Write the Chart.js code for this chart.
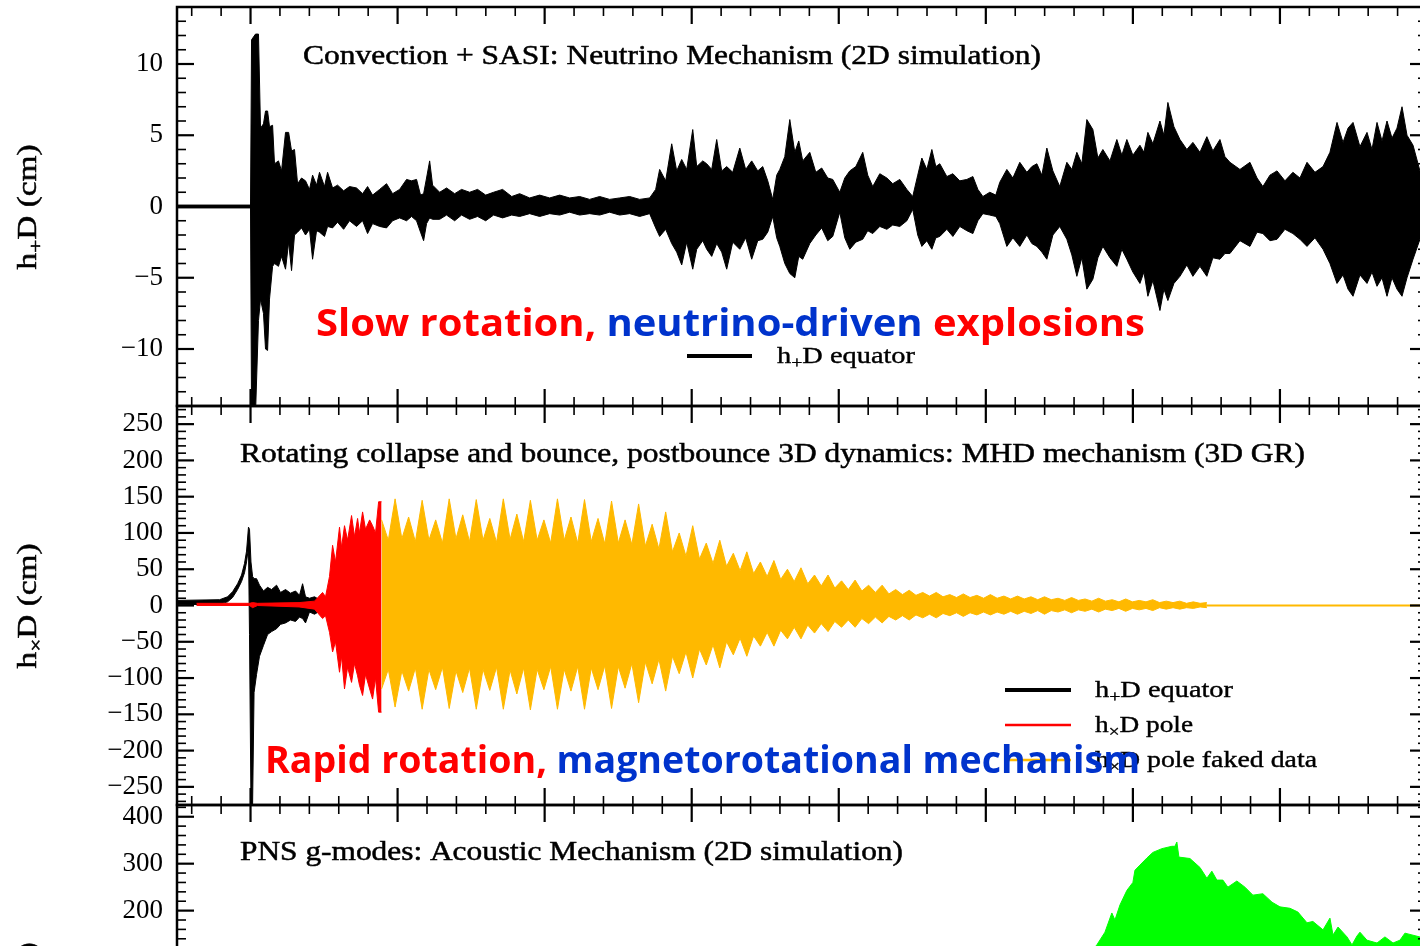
<!DOCTYPE html>
<html>
<head>
<meta charset="utf-8">
<script src="https://cdn.jsdelivr.net/npm/chart.js@4.4.1/dist/chart.umd.min.js"></script>
<style>
  html, body { margin: 0; padding: 0; background: #fff; overflow: hidden; width: 1420px; height: 946px; }
  canvas { position: absolute; left: 0; }
</style>
</head>
<body>
<canvas id="c1" width="1460" height="479" style="top:-33px"></canvas>
<canvas id="c2" width="1460" height="479" style="top:366px"></canvas>
<canvas id="c3" width="1460" height="479" style="top:765px"></canvas>
<canvas id="ov" width="1420" height="946" style="top:0"></canvas>
<script>
// time axis in ms after bounce (shared by the three panels, no labels shown)
const xMin = -50, xMax = 800;

// ---- top panel: h+D equator, neutrino mechanism (upper / lower envelope)
const tTop = [
  -50, 0, 0.7, 3.4, 5.4, 6.8, 8.8, 10.2, 11.6, 12.9,
  15, 16.3, 19, 21.1, 23.8, 25.9, 27.9, 29.9, 32, 34.7,
  37.4, 40.1, 42.2, 44.9, 46.9, 50.3, 52.4, 55.8, 59.2, 63.3,
  67.3, 72.1, 76.2, 79.6, 83, 87.8, 92.5, 96.6, 101.4, 106.1,
  109.5, 112.9, 115.6, 117.7, 119.7, 121.8, 123.8, 128.6, 133.3, 138.8,
  143.5, 149, 154.4, 159.9, 165.3, 171.4, 177.6, 183, 189.8, 196.6,
  203.4, 210.2, 217, 223.8, 230.6, 237.4, 244.2, 251, 257.8, 264.6,
  271.4, 275.5, 278.2, 282.3, 286.4, 289.8, 293.2, 296.6, 300.7, 303.4,
  307.5, 310.2, 313.6, 317, 320.4, 323.8, 327.9, 332.7, 336.7, 340.8,
  344.9, 348.3, 351.7, 355.1, 357.8, 359.9, 363.3, 366.7, 370.1, 372.8,
  375.5, 380.3, 384.4, 388.4, 392.5, 395.9, 400.7, 404.1, 407.5, 411.6,
  416.3, 419.7, 423.1, 427.9, 432.7, 436.7, 441.5, 446.3, 450.3, 453.7,
  456.5, 459.9, 463.3, 466, 468.7, 473.5, 477.6, 482.3, 487.1, 491.2,
  494.6, 498, 502.7, 506.8, 509.5, 514.3, 518.4, 523.1, 527.9, 531.3,
  534.7, 538.1, 541.5, 545.6, 550.3, 555.1, 558.5, 561.9, 565.3, 568.7,
  572.8, 576.2, 579.6, 584.4, 589.1, 592.5, 595.9, 600, 604.8, 607.5,
  610.2, 613.6, 618.4, 621.1, 623.8, 627.9, 632, 636.7, 640.8, 645.6,
  650.3, 654.4, 659.2, 662.6, 666, 672.8, 679.6, 684.4, 688.4, 693.2,
  698, 703.4, 708.8, 713.6, 718.4, 723.8, 729.3, 734, 738.8, 742.9,
  746.3, 749.7, 754.4, 759.2, 762.6, 766, 769.4, 772.8, 776.2, 779.6,
  783, 786.4, 790.5, 795.2, 800
];
const topUpper = [
  0.1, 0.1, 11.7, 12.1, 12.1, 5.5, 5.8, 6.7, 6.7, 5.6,
  5.7, 3.0, 3.2, 2.5, 5.2, 5.2, 3.9, 4.0, 1.6, 2.0,
  1.8, 1.2, 2.2, 1.5, 2.4, 1.4, 2.4, 1.3, 1.5, 1.1,
  1.4, 1.3, 0.9, 1.4, 0.8, 1.2, 1.6, 0.9, 1.2, 1.9,
  1.8, 1.9, 0.8, 0.9, 2.0, 3.2, 1.5, 1.0, 1.3, 0.9,
  1.2, 1.0, 1.2, 0.8, 1.0, 1.2, 0.7, 0.9, 0.6, 0.8,
  0.6, 0.8, 0.6, 0.7, 0.5, 0.7, 0.5, 0.6, 0.7, 0.5,
  0.6, 1.2, 2.6, 1.8, 4.4, 2.5, 3.3, 2.6, 5.4, 2.8,
  3.2, 3.0, 2.6, 4.7, 2.5, 2.8, 2.4, 4.1, 2.6, 3.2,
  2.5, 2.8, 1.8, 0.5, 2.2, 2.6, 3.5, 6.1, 3.8, 4.6,
  3.2, 3.8, 2.4, 2.7, 2.0, 1.9, 1.0, 2.0, 2.5, 2.8,
  3.8, 2.2, 1.4, 2.3, 2.0, 1.6, 1.9, 1.2, 0.7, 2.2,
  3.4, 2.6, 4.0, 2.8, 3.0, 2.1, 2.3, 1.8, 1.9, 2.1,
  1.2, 0.7, 1.0, 0.8, 1.7, 2.6, 2.0, 3.1, 2.4, 2.8,
  3.0, 2.2, 4.1, 2.5, 1.4, 3.1, 2.6, 3.8, 3.0, 6.1,
  5.4, 3.4, 4.0, 3.2, 4.7, 3.6, 4.7, 3.6, 4.3, 3.8,
  5.2, 4.4, 6.0, 5.0, 7.3, 5.6, 4.7, 4.0, 4.5, 3.8,
  4.9, 3.9, 4.7, 3.5, 3.1, 2.6, 3.1, 2.0, 1.4, 2.2,
  2.5, 1.8, 2.4, 2.0, 3.1, 2.4, 2.8, 3.8, 5.9, 4.5,
  5.5, 5.9, 4.2, 5.2, 4.0, 5.9, 4.6, 6.0, 4.8, 5.5,
  7.0, 5.0, 4.3, 2.5, 3.0
];
const topLower = [
  -0.1, -0.1, -14.5, -14.5, -8, -6.5, -7.5, -10, -10.1, -6.5,
  -4.2, -4.0, -4.2, -3.5, -4.4, -2.5, -4.5, -2, -1.8, -1.5,
  -2.0, -1.6, -3.7, -1.7, -1.8, -2.1, -1.4, -1.5, -1.1, -1.6,
  -1.0, -1.4, -1.0, -1.9, -1.2, -1.4, -1.5, -1.0, -0.8, -1.0,
  -0.7, -1.0, -1.8, -2.4, -1.2, -0.8, -0.9, -0.9, -0.6, -1.0,
  -0.6, -0.9, -0.7, -1.0, -0.6, -0.8, -0.6, -0.7, -0.5, -0.7,
  -0.5, -0.6, -0.4, -0.6, -0.5, -0.6, -0.4, -0.6, -0.5, -0.7,
  -0.5, -1.5, -2.1, -1.6, -2.6, -3.2, -4.1, -2.5, -4.4, -3.0,
  -2.4, -3.0, -3.5, -2.6, -3.2, -4.4, -2.5, -3.0, -2.2, -3.7,
  -2.4, -2.3, -1.8, -0.7, -2.2, -2.8, -4.0, -4.7, -5.0, -3.5,
  -3.7, -2.6, -2.0, -1.5, -2.4, -2.1, -0.4, -2.2, -3.0, -2.5,
  -2.3, -1.7, -1.9, -1.4, -1.6, -1.3, -1.4, -1.0, -0.2, -2.0,
  -2.8, -2.4, -3.0, -2.2, -2.1, -1.6, -2.1, -1.4, -1.7, -1.9,
  -1.0, -0.5, -0.6, -0.7, -1.2, -2.8, -2.2, -2.8, -2.0, -2.6,
  -2.8, -3.2, -3.7, -2.0, -1.4, -2.3, -3.4, -4.9, -3.6, -5.8,
  -5.1, -3.6, -2.8, -3.6, -4.2, -3.0, -3.7, -4.6, -5.4, -4.6,
  -6.3, -5.2, -7.3, -5.8, -6.6, -5.4, -4.9, -4.1, -4.9, -4.2,
  -4.9, -3.6, -3.7, -3.3, -3.3, -2.4, -2.8, -1.8, -1.9, -2.4,
  -2.3, -1.6, -1.9, -2.3, -2.8, -2.2, -3.0, -4.0, -5.4, -4.8,
  -5.8, -6.3, -4.8, -5.4, -4.6, -5.6, -5.0, -6.3, -5.0, -5.8,
  -6.3, -5.0, -3.7, -2.3, -3.0
];

// ---- middle panel: rotating collapse, MHD mechanism
const tMidBlack = [
  -50, -21, -15.6, -12.2, -8.8, -6.1, -4.1, -2.7, -1.4, -0.7,
  0.3, 1.4, 2.4, 4.1, 6.1, 8.8, 11.6, 14.3, 17.7, 20.4,
  23.8, 27.2, 30.6, 33.3, 35.4, 37.4, 40.1, 43.5, 46.9, 50.3
];
const blackUpper = [
  7, 8, 12, 19, 30, 42, 58, 75, 108, 105,
  60, 40, 37, 37, 28, 20, 25, 22, 28, 18,
  22, 17, 20, 14, 30, 12, 10, 12, 8, 5
];
const blackLower = [
  1, 2, 5, 11, 22, 33, 45, 60, 80, -40,
  -275, -275, -120, -95, -70, -55, -40, -36, -32, -26,
  -24, -20, -22, -16, -18, -24, -9, -12, -8, -5
];
const tRed = [
  -36.7, -0.7, 1.4, 4.8, 33, 43.5, 49, 51, 53.7, 55.8,
  57.8, 60.5, 61.9, 63.9, 66, 68.7, 70.7, 72.8, 74.1, 76.2,
  78.2, 81, 83, 85, 87.1, 89.1
];
const redUpper = [
  3, 3, 4, 3, 4, 6, 18, 12, 40, 83,
  60, 108, 80, 110, 90, 124, 95, 120, 100, 129,
  105, 118, 110, 100, 143, 143
];
const redLower = [
  0, 0, -3, 0, -2, -5, -18, -14, -37, -64,
  -50, -92, -70, -115, -85, -106, -80, -97, -110, -124,
  -95, -115, -129, -100, -147, -147
];
// faked data: sampled every 4.6 ms from 89.1 ms
const orangeStart = 89.1, orangeStep = 4.6;
const orangeUpper = [
  118, 90, 147, 92, 122, 88, 145, 90, 118, 86,
  147, 92, 125, 88, 146, 90, 120, 87, 147, 91,
  126, 88, 145, 90, 118, 86, 147, 90, 122, 86,
  146, 88, 120, 85, 144, 86, 118, 84, 140, 82,
  112, 78, 129, 74, 100, 68, 110, 64, 86, 58,
  90, 54, 72, 48, 74, 44, 60, 40, 62, 36,
  50, 33, 52, 30, 42, 27, 42, 24, 34, 22,
  35, 20, 28, 18, 28, 16, 22, 15, 21, 14,
  18, 13, 18, 12, 15, 11, 16, 11, 14, 10,
  15, 10, 13, 9, 13, 9, 12, 8, 12, 8,
  10, 7, 11, 7, 9, 6, 10, 6, 8, 5,
  9, 5, 7, 5, 8, 4, 6, 4, 6, 3,
  5, 3, 4
];
const orangeLower = [
  -115, -88, -140, -90, -118, -86, -143, -88, -116, -85,
  -142, -90, -120, -86, -143, -88, -117, -85, -143, -89,
  -122, -86, -144, -88, -116, -84, -143, -88, -118, -84,
  -143, -86, -116, -83, -142, -84, -114, -80, -134, -78,
  -108, -74, -118, -70, -94, -64, -100, -60, -82, -54,
  -86, -50, -68, -45, -70, -42, -56, -37, -56, -34,
  -46, -30, -46, -27, -38, -25, -36, -22, -30, -20,
  -30, -18, -25, -16, -24, -15, -20, -14, -20, -13,
  -17, -12, -17, -11, -14, -10, -15, -10, -13, -9,
  -13, -9, -12, -8, -12, -8, -11, -7, -12, -7,
  -9, -6, -10, -6, -8, -5, -9, -5, -7, -4,
  -8, -4, -6, -4, -7, -3, -5, -3, -5, -3,
  -4, -2, -3
];
const tOrangeTail = [650, 800];
const orangeTail = [0, 0];

// ---- bottom panel: PNS g-modes
const tGreen = [
  536.7, 550.3, 564, 575.5, 581, 585.7, 587.8, 591.2, 595.9, 600,
  601.4, 604.8, 609.5, 613.6, 619.7, 626.5, 628.6, 629.9, 631.3, 638.8,
  645.6, 650.3, 653.7, 657.1, 661.2, 664.6, 670.7, 676.2, 681.6, 688.4,
  694.6, 700, 706.8, 712.2, 718.4, 722.4, 729.3, 734, 736.1, 739.5,
  745.6, 749, 752.4, 754.4, 759.2, 766, 771.4, 776.9, 781.6, 785, 800
];
const greenUpper = [
  0, 40, 85, 127, 154, 195, 180, 212, 243, 260,
  286, 297, 312, 324, 332, 337, 337, 346, 314, 311,
  292, 269, 284, 265, 265, 250, 263, 250, 233, 236,
  218, 208, 205, 197, 174, 177, 159, 184, 148, 165,
  144, 127, 146, 154, 137, 131, 144, 131, 137, 152, 140
];
const tGreenLow = [536.7, 575.5, 600, 629.9, 670.7, 718.4, 759.2, 800];
const greenLower = [0, -120, -250, -330, -260, -180, -140, -130];

// tick labels
const ticksTop = [-10, -5, 0, 5, 10];
const ticksMid = [-250, -200, -150, -100, -50, 0, 50, 100, 150, 200, 250];
const ticksBot = [-400, -300, -200, -100, 0, 100, 200, 300, 400];

const titles = [
  'Convection + SASI: Neutrino Mechanism (2D simulation)',
  'Rotating collapse and bounce, postbounce 3D dynamics: MHD mechanism (3D GR)',
  'PNS g-modes: Acoustic Mechanism (2D simulation)'
];

const cBlack = '#000000', cRed = '#ff0000', cOrange = '#ffb900', cGreen = '#00ff00', cBlue = '#0033cc';

function pts(ts, vs) {
  return ts.map((t, i) => ({ x: t, y: vs[i] }));
}

function band(label, ts, up, lo, color, order, tsLo) {
  return [
    { label: label, data: pts(ts, up), borderColor: color, backgroundColor: color,
      borderWidth: 1, pointRadius: 0, fill: '+1', order: order },
    { label: label + ' lower', data: pts(tsLo || ts, lo), borderColor: color,
      borderWidth: 1, pointRadius: 0, fill: false, order: order }
  ];
}

// inward ticks on all four sides + frame
const frameTicks = {
  id: 'frameTicks',
  afterDraw(chart, args, opts) {
    const { ctx, chartArea: a } = chart;
    const x = chart.scales.x, y = chart.scales.y;
    const seg = (x1, y1, x2, y2) => { ctx.beginPath(); ctx.moveTo(x1, y1); ctx.lineTo(x2, y2); ctx.stroke(); };
    ctx.save();
    ctx.strokeStyle = '#000';
    for (let i = -2; i <= 40; i++) {
      const px = x.getPixelForValue(i * 20);
      const major = i % 5 === 0;
      const L = major ? 17 : 9;
      ctx.lineWidth = major ? 2.2 : 1.6;
      seg(px, a.top, px, a.top + L);
      seg(px, a.bottom, px, a.bottom - L);
    }
    const n0 = Math.ceil(y.min / opts.minor), n1 = Math.floor(y.max / opts.minor);
    for (let i = n0; i <= n1; i++) {
      const py = y.getPixelForValue(i * opts.minor);
      const major = i % 5 === 0;
      const L = major ? 17 : 9;
      ctx.lineWidth = major ? 2.2 : 1.6;
      seg(a.left, py, a.left + L, py);
      seg(a.right, py, a.right - L, py);
    }
    ctx.lineWidth = 2.5;
    ctx.strokeRect(a.left, a.top, a.right - a.left, a.bottom - a.top);
    ctx.restore();
  }
};

function makeChart(id, datasets, yMin, yMax, yTicks, yMinor) {
  return new Chart(document.getElementById(id), {
    type: 'line',
    data: { datasets: datasets },
    options: {
      responsive: false,
      animation: false,
      events: [],
      layout: { padding: { top: 40, bottom: 40, left: 0, right: 33 } },
      elements: { line: { tension: 0 } },
      scales: {
        x: { type: 'linear', min: xMin, max: xMax, display: false },
        y: {
          type: 'linear', min: yMin, max: yMax,
          afterBuildTicks: s => { s.ticks = yTicks.map(v => ({ value: v })); },
          afterFit: s => { s.width = 177; },
          grid: { display: false, drawTicks: false },
          border: { display: false },
          ticks: {
            padding: 14, color: '#000',
            font: { family: 'Liberation Serif', size: 27 },
            callback: v => v < 0 ? '\u2212' + Math.abs(v) : String(v)
          }
        }
      },
      plugins: { legend: { display: false }, tooltip: { enabled: false }, frameTicks: { minor: yMinor } }
    },
    plugins: [frameTicks]
  });
}

makeChart('c1', band('h+D equator', tTop, topUpper, topLower, cBlack, 1), -14, 14, ticksTop, 1);

const orangeT = orangeUpper.map((v, i) => orangeStart + i * orangeStep);
makeChart('c2', [
  ...band('h×D pole faked data', orangeT, orangeUpper, orangeLower, cOrange, 1),
  { label: 'faked tail', data: pts(tOrangeTail, orangeTail), borderColor: cOrange, borderWidth: 2, pointRadius: 0, fill: false, order: 1 },
  ...band('h×D pole', tRed, redUpper, redLower, cRed, 2),
  ...band('h+D equator', tMidBlack, blackUpper, blackLower, cBlack, 3)
], -275, 275, ticksMid, 10);

makeChart('c3', band('g-modes', tGreen, greenUpper, greenLower, cGreen, 1, tGreenLow), -425, 425, ticksBot, 20);

// ---- text overlay
const ov = document.getElementById('ov').getContext('2d');

// parts: [text, isSub, color]; stretched to width w, optional faux-bold stroke
function rich(ctx, parts, x, y, w, size, fam, weight, stroke) {
  const font = s => (weight || 'normal') + ' ' + s + 'px ' + fam;
  let total = 0;
  const ws = parts.map(p => {
    ctx.font = font(p[1] ? size * 0.7 : size);
    const m = ctx.measureText(p[0]).width;
    total += m;
    return m;
  });
  ctx.save();
  ctx.translate(x, y);
  ctx.scale(w / total, 1);
  let cx = 0;
  parts.forEach((p, i) => {
    ctx.font = font(p[1] ? size * 0.7 : size);
    ctx.fillStyle = p[2] || '#000';
    const ty = p[1] ? size * 0.22 : 0;
    ctx.fillText(p[0], cx, ty);
    if (stroke) {
      ctx.strokeStyle = p[2] || '#000';
      ctx.lineWidth = stroke;
      ctx.strokeText(p[0], cx, ty);
    }
    cx += ws[i];
  });
  ctx.restore();
}

function vlabel(parts, cy) {
  ov.save();
  ov.translate(36, cy);
  ov.rotate(-Math.PI / 2);
  rich(ov, parts, -62.5, 0, 125, 28, 'Liberation Serif', 'normal', 0.5);
  ov.restore();
}

function legLine(x1, x2, y, color, lw) {
  ov.save();
  ov.strokeStyle = color;
  ov.lineWidth = lw;
  ov.beginPath(); ov.moveTo(x1, y); ov.lineTo(x2, y); ov.stroke();
  ov.restore();
}

ov.textBaseline = 'alphabetic';
const serif = 'Liberation Serif';

// titles
rich(ov, [[titles[0]]], 303, 64, 738, 28, serif, 'normal', 0.5);
rich(ov, [[titles[1]]], 240, 462, 1065, 28, serif, 'normal', 0.5);
rich(ov, [[titles[2]]], 240, 860, 663, 28, serif, 'normal', 0.5);

// axis labels
vlabel([['h'], ['+', true], ['D (cm)']], 207);
vlabel([['h'], ['×', true], ['D (cm)']], 606);
vlabel([['h'], ['+', true], ['D (cm)']], 1005);

// legends
legLine(687, 752, 356, cBlack, 4);
rich(ov, [['h'], ['+', true], ['D equator']], 777, 363, 138, 24, serif, 'normal', 0.4);
legLine(1005, 1071, 690, cBlack, 4);
legLine(1005, 1071, 725, cRed, 2.5);
legLine(1005, 1071, 760, cOrange, 2.5);
rich(ov, [['h'], ['+', true], ['D equator']], 1095, 697, 138, 24, serif, 'normal', 0.4);
rich(ov, [['h'], ['×', true], ['D pole']], 1095, 732, 98, 24, serif, 'normal', 0.4);
rich(ov, [['h'], ['×', true], ['D pole faked data']], 1095, 767, 222, 24, serif, 'normal', 0.4);

// annotations
rich(ov, [['Slow rotation, ', false, cRed], ['neutrino-driven', false, cBlue], [' explosions', false, cRed]],
  316, 336, 829, 38, '"Open Sans"', 'bold');
rich(ov, [['Rapid rotation, ', false, cRed], ['magnetorotational mechanism', false, cBlue]],
  265, 773, 875, 38, '"Open Sans"', 'bold');
</script>
</body>
</html>
